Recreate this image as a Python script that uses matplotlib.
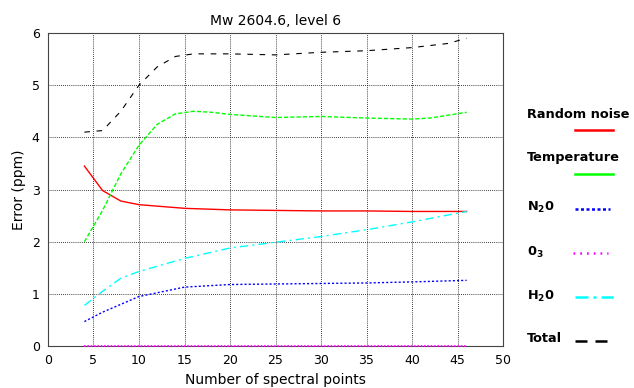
import matplotlib
matplotlib.use("Agg")
import matplotlib.pyplot as plt
from matplotlib.lines import Line2D

# spectral points
x_noise = [4, 6, 8, 10, 15, 20, 25, 30, 35, 40, 46]
noise = [3.45, 2.98, 2.78, 2.71, 2.64, 2.61, 2.60, 2.59, 2.59, 2.58, 2.58]

x_temp = [4, 6, 8, 10, 12, 14, 16, 18, 20, 25, 30, 35, 40, 42, 46]
temperature = [2.0, 2.6, 3.3, 3.85, 4.25, 4.45, 4.5, 4.48, 4.44, 4.38, 4.40, 4.37, 4.35, 4.37, 4.48]

x_total = [4, 6, 8, 10, 12, 14, 16, 20, 25, 30, 35, 40, 44, 46]
total = [4.1, 4.13, 4.5, 5.0, 5.35, 5.55, 5.6, 5.6, 5.58, 5.63, 5.66, 5.72, 5.8, 5.9]

x_gas = [4, 6, 8, 10, 15, 20, 25, 30, 35, 40, 46]
h2o = [0.78, 1.05, 1.3, 1.43, 1.68, 1.88, 1.99, 2.1, 2.23, 2.38, 2.58]
n2o = [0.47, 0.65, 0.8, 0.95, 1.13, 1.18, 1.19, 1.2, 1.21, 1.23, 1.26]
o3 = [0, 0, 0, 0, 0, 0, 0, 0, 0, 0, 0]

fig = plt.figure(figsize=(6.34, 3.88), dpi=100)
ax = fig.add_axes([0.0757, 0.108, 0.7177, 0.807])

styles = {
    "noise": dict(color="#ff0000", linestyle="-", linewidth=1.0),
    "temp": dict(color="#00ff00", linestyle=(0, (3, 1.5)), linewidth=1.0),
    "n2o": dict(color="#0000ff", linestyle=(0, (1.5, 1.5)), linewidth=1.0),
    "o3": dict(color="#ff00ff", linestyle=(0, (1, 1)), linewidth=1.2),
    "h2o": dict(color="#00ffff", linestyle=(0, (6, 3, 1.5, 3)), linewidth=1.0),
    "total": dict(color="black", linestyle=(0, (5, 6)), linewidth=0.8),
}

ax.plot(x_noise, noise, **styles["noise"])
ax.plot(x_temp, temperature, **styles["temp"])
ax.plot(x_gas, n2o, **styles["n2o"])
ax.plot(x_gas, o3, clip_on=False, zorder=5, **styles["o3"])
ax.plot(x_gas, h2o, **styles["h2o"])
ax.plot(x_total, total, **styles["total"])

ax.set_xlim(0, 50)
ax.set_ylim(0, 6)
ax.set_xticks(range(0, 51, 5))
ax.set_yticks(range(0, 7))
ax.grid(True, color="black", linestyle=(0, (1, 1.5)), linewidth=0.6)
ax.tick_params(length=0, labelsize=9, pad=6)
for s in ax.spines.values():
    s.set_color("#444444")
    s.set_linewidth(0.8)

ax.set_title("Mw 2604.6, level 6", fontsize=10)
ax.set_xlabel("Number of spectral points", fontsize=10)
ax.set_ylabel("Error (ppm)", fontsize=10)

# legend on the right, label above/left of its line
W, H = 634, 388
legend_dash = {
    "noise": "-",
    "temp": "-",
    "n2o": (0, (1.2, 1.0)),
    "o3": (0, (0.7, 2.0)),
    "h2o": (0, (5.2, 2.0, 1.2, 2.0)),
    "total": (0, (4.8, 3.2)),
}
entries = [
    ("Random noise", "noise", 527, 115, 575, 613, 130),
    ("Temperature", "temp", 527, 158, 575, 613, 174),
    (r"$\mathbf{N_20}$", "n2o", 527, 207, 575, 610, 209),
    (r"$\mathbf{0_3}$", "o3", 527, 252, 573, 608, 253),
    (r"$\mathbf{H_20}$", "h2o", 527, 296, 575, 613, 297),
    ("Total", "total", 527, 339, 575, 608, 341),
]
for label, key, tx, ty, x0, x1, ly in entries:
    fig.text(tx / W, 1 - ty / H, label, fontsize=9.3, fontweight="bold",
             va="center", ha="left")
    fig.add_artist(Line2D([x0 / W, x1 / W], [1 - ly / H, 1 - ly / H],
                          transform=fig.transFigure,
                          color=styles[key]["color"],
                          linestyle=legend_dash[key], linewidth=1.8))

fig.savefig("out.png", dpi=100)
